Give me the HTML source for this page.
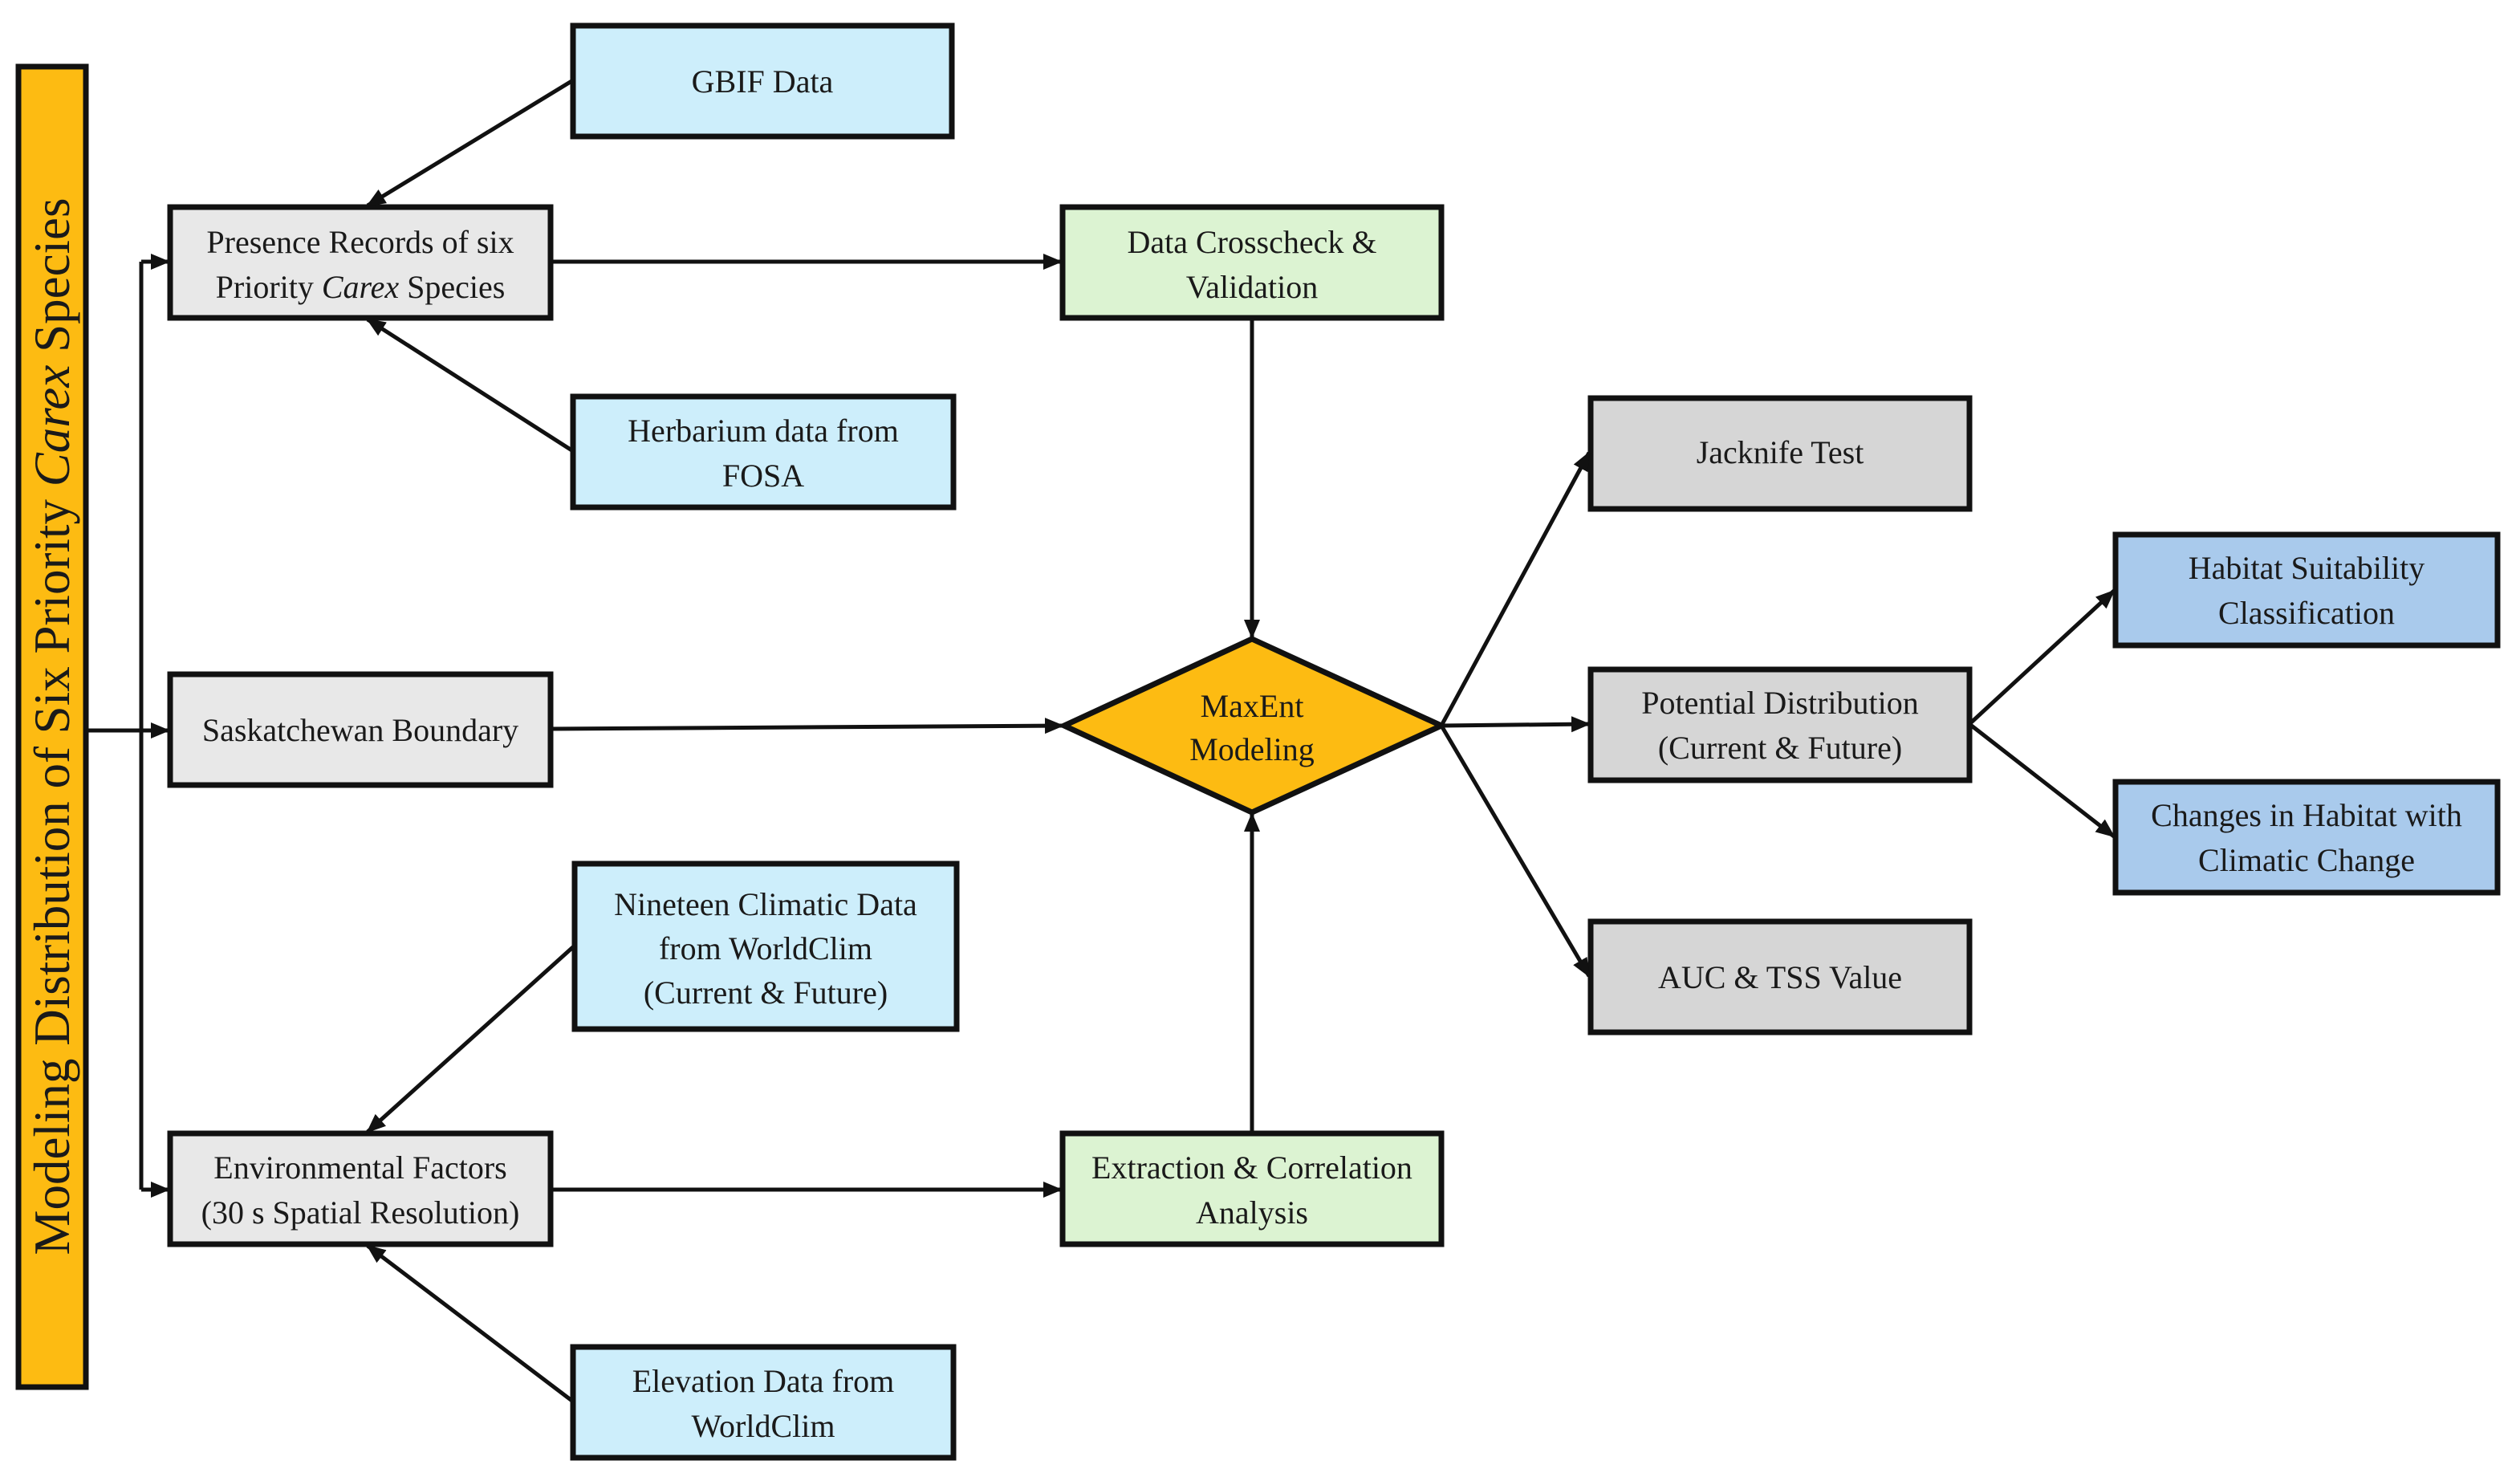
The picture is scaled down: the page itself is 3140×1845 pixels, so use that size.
<!DOCTYPE html>
<html><head><meta charset="utf-8"><style>
html,body{margin:0;padding:0;background:#fff}
svg{display:block}
text{font-family:"Liberation Serif",serif;fill:#1a1a1a}
</style></head><body>
<svg width="3140" height="1845" viewBox="0 0 3140 1845" xmlns="http://www.w3.org/2000/svg">
<defs>
<marker id="b" markerWidth="24" markerHeight="24" refX="22" refY="12" orient="auto" markerUnits="userSpaceOnUse">
<path d="M0,2 L24,12 L0,22 z" fill="#111"/></marker>
</defs>
<g stroke="#111" stroke-width="7">
<rect x="23" y="83" width="84" height="1645" fill="#fdbb12"/>
<rect x="714" y="32" width="472" height="138" fill="#cdeefb"/>
<rect x="212" y="258" width="474" height="138" fill="#e8e8e8"/>
<rect x="714" y="494" width="474" height="138" fill="#cdeefb"/>
<rect x="212" y="840" width="474" height="138" fill="#e8e8e8"/>
<rect x="716" y="1076" width="476" height="206" fill="#cdeefb"/>
<rect x="212" y="1412" width="474" height="138" fill="#e8e8e8"/>
<rect x="714" y="1678" width="474" height="138" fill="#cdeefb"/>
<rect x="1324" y="258" width="472" height="138" fill="#dcf3d2"/>
<rect x="1324" y="1412" width="472" height="138" fill="#dcf3d2"/>
<polygon points="1560,796 1796,904 1560,1012 1326,904" fill="#fdbb12"/>
<rect x="1982" y="496" width="472" height="138" fill="#d6d6d6"/>
<rect x="1982" y="834" width="472" height="138" fill="#d6d6d6"/>
<rect x="1982" y="1148" width="472" height="138" fill="#d6d6d6"/>
<rect x="2636" y="666" width="476" height="138" fill="#a9caec"/>
<rect x="2636" y="974" width="476" height="138" fill="#a9caec"/>
</g>
<g stroke="#111" stroke-width="5" fill="none">
<line x1="107" y1="910" x2="176" y2="910"/>
<line x1="176" y1="326" x2="176" y2="1482"/>
<line x1="176" y1="326" x2="210" y2="326" marker-end="url(#b)"/>
<line x1="176" y1="910" x2="210" y2="910" marker-end="url(#b)"/>
<line x1="176" y1="1482" x2="210" y2="1482" marker-end="url(#b)"/>
<line x1="714" y1="100" x2="458" y2="256" marker-end="url(#b)"/>
<line x1="714" y1="562" x2="458" y2="398" marker-end="url(#b)"/>
<line x1="716" y1="1178" x2="458" y2="1410" marker-end="url(#b)"/>
<line x1="714" y1="1746" x2="458" y2="1552" marker-end="url(#b)"/>
<line x1="686" y1="326" x2="1322" y2="326" marker-end="url(#b)"/>
<line x1="686" y1="908" x2="1324" y2="904" marker-end="url(#b)"/>
<line x1="686" y1="1482" x2="1322" y2="1482" marker-end="url(#b)"/>
<line x1="1560" y1="396" x2="1560" y2="794" marker-end="url(#b)"/>
<line x1="1560" y1="1410" x2="1560" y2="1014" marker-end="url(#b)"/>
<line x1="1796" y1="904" x2="1980" y2="564" marker-end="url(#b)"/>
<line x1="1796" y1="904" x2="1980" y2="902" marker-end="url(#b)"/>
<line x1="1796" y1="904" x2="1980" y2="1216" marker-end="url(#b)"/>
<line x1="2454" y1="902" x2="2634" y2="736" marker-end="url(#b)"/>
<line x1="2454" y1="902" x2="2634" y2="1042" marker-end="url(#b)"/>
</g>
<g font-size="40" text-anchor="middle">
<text x="950" y="115">GBIF Data</text>
<text x="449" y="315">Presence Records of six</text>
<text x="449" y="371">Priority <tspan font-style="italic">Carex</tspan> Species</text>
<text x="951" y="550">Herbarium data from</text>
<text x="951" y="606">FOSA</text>
<text x="449" y="923">Saskatchewan Boundary</text>
<text x="954" y="1140">Nineteen Climatic Data</text>
<text x="954" y="1195">from WorldClim</text>
<text x="954" y="1250">(Current &amp; Future)</text>
<text x="449" y="1468">Environmental Factors</text>
<text x="449" y="1524">(30 s Spatial Resolution)</text>
<text x="951" y="1734">Elevation Data from</text>
<text x="951" y="1790">WorldClim</text>
<text x="1560" y="315">Data Crosscheck &amp;</text>
<text x="1560" y="371">Validation</text>
<text x="1560" y="1468">Extraction &amp; Correlation</text>
<text x="1560" y="1524">Analysis</text>
<text x="1560" y="893">MaxEnt</text>
<text x="1560" y="947">Modeling</text>
<text x="2218" y="577">Jacknife Test</text>
<text x="2218" y="889">Potential Distribution</text>
<text x="2218" y="945">(Current &amp; Future)</text>
<text x="2218" y="1231">AUC &amp; TSS Value</text>
<text x="2874" y="721">Habitat Suitability</text>
<text x="2874" y="777">Classification</text>
<text x="2874" y="1029">Changes in Habitat with</text>
<text x="2874" y="1085">Climatic Change</text>
</g>
<text transform="translate(86,905) rotate(-90)" font-size="63" text-anchor="middle">Modeling Distribution of Six Priority <tspan font-style="italic">Carex</tspan> Species</text>
</svg>
</body></html>
